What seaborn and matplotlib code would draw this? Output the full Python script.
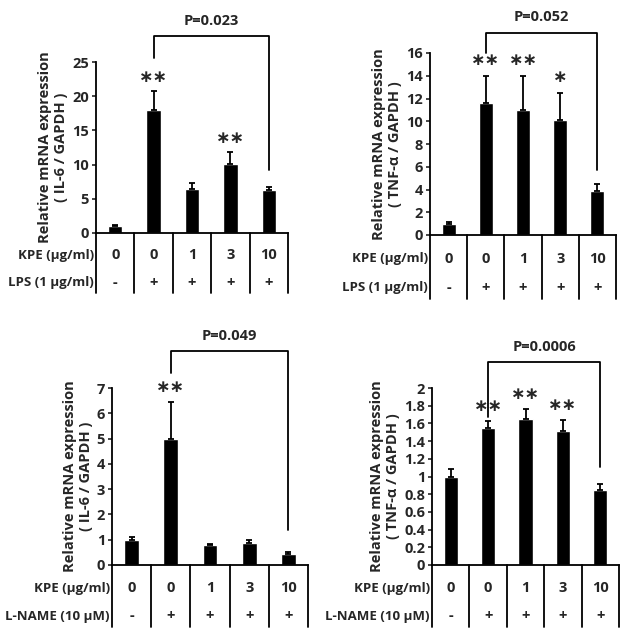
import pandas as pd
import matplotlib
matplotlib.use('Agg')
import matplotlib.pyplot as plt
import seaborn as sns

# data
groups = ['g1', 'g2', 'g3', 'g4', 'g5']
kpe_labels = ['0', '0', '1', '3', '10']
sign_labels = ['-', '+', '+', '+', '+']

il6_lps = [1.0, 18.0, 6.5, 10.1, 6.3]
il6_lps_err = [0.1, 2.7, 0.8, 1.7, 0.4]
il6_lps_stars = ['', '**', '', '**', '']

tnf_lps = [1.0, 11.6, 11.0, 10.1, 3.9]
tnf_lps_err = [0.1, 2.4, 3.0, 2.4, 0.6]
tnf_lps_stars = ['', '**', '**', '*', '']

il6_lname = [1.0, 5.0, 0.78, 0.87, 0.45]
il6_lname_err = [0.1, 1.45, 0.07, 0.1, 0.07]
il6_lname_stars = ['', '**', '', '', '']

tnf_lname = [1.0, 1.55, 1.65, 1.51, 0.85]
tnf_lname_err = [0.09, 0.08, 0.11, 0.13, 0.07]
tnf_lname_stars = ['', '**', '**', '**', '']

p_values = ['P=0.023', 'P=0.052', 'P=0.049', 'P=0.0006']

sns.set_style('white')
plt.rcParams['font.family'] = ['Open Sans', 'DejaVu Sans']
plt.rcParams['font.weight'] = 'bold'

W, H = 628, 639
fig = plt.figure(figsize=(W / 100, H / 100), dpi=100)


def add_ax(left, right, top, bottom):
    return fig.add_axes([left / W, 1 - bottom / H, (right - left) / W, (bottom - top) / H])


def draw_panel(ax, vals, errs, stars, ymax, ystep, gene, treat, ptext, bracket):
    df = pd.DataFrame({'group': groups, 'value': vals})
    sns.barplot(data=df, x='group', y='value', color='black', width=0.38,
                saturation=1, errorbar=None, ax=ax)
    x = list(range(len(groups)))
    ax.errorbar(x, vals, yerr=[[0] * len(errs), errs], fmt='none', ecolor='black',
                elinewidth=1.3, capsize=2.5, capthick=1.3)
    ax.set_xlim(-0.5, len(groups) - 0.5)
    ax.set_ylim(0, ymax)
    ticks = [round(i * ystep, 2) for i in range(int(round(ymax / ystep)) + 1)]
    ax.set_yticks(ticks)
    ax.set_yticklabels([f'{t:g}' for t in ticks], fontsize=10.5, fontweight='bold')
    ax.tick_params(axis='y', direction='out', length=3, width=1.2, left=True, pad=2)
    ax.set_xticks([])
    ax.set_xlabel('')
    ax.set_ylabel(f'Relative mRNA expression\n( {gene} / GAPDH )', fontsize=10.5,
                  fontweight='bold', labelpad=3, linespacing=1.15)
    for s in ['top', 'right']:
        ax.spines[s].set_visible(False)
    for s in ['left', 'bottom']:
        ax.spines[s].set_linewidth(1.3)
        ax.spines[s].set_color('black')

    for i, s in enumerate(stars):
        if s:
            ax.text(i, vals[i] + errs[i] + 0.085 * ymax, s.replace('*', '\u2217'),
                    ha='center', va='center', fontsize=12.5, fontweight='bold',
                    family='DejaVu Sans')

    # significance bracket
    yl, yt, yr = bracket
    ax.plot([1, 1, 4, 4], [yl, yt, yt, yr], color='black', lw=1.3, clip_on=False)
    ax.text(2.5, yt + 0.045 * ymax, ptext, ha='center', va='bottom', fontsize=10.5,
            fontweight='bold', clip_on=False)

    # table under the axis
    tr = ax.get_xaxis_transform()
    for b in [i - 0.5 for i in range(len(groups) + 1)]:
        ax.plot([b, b], [0, -0.35], color='black', lw=1.3, transform=tr, clip_on=False)
    for i in x:
        ax.text(i, -0.13, kpe_labels[i], ha='center', va='center', transform=tr,
                fontsize=10.5, fontweight='bold')
        ax.text(i, -0.29, sign_labels[i], ha='center', va='center', transform=tr,
                fontsize=10.5, fontweight='bold')
    ax.text(-0.56, -0.13, 'KPE (µg/ml)', ha='right', va='center', transform=tr,
            fontsize=9.5, fontweight='bold')
    ax.text(-0.56, -0.29, treat, ha='right', va='center', transform=tr,
            fontsize=9.5, fontweight='bold')


ax1 = add_ax(96, 288, 62, 233)
draw_panel(ax1, il6_lps, il6_lps_err, il6_lps_stars, 25, 5, 'IL-6', 'LPS (1 µg/ml)',
           p_values[0], (25.6, 28.8, 9.2))

ax2 = add_ax(430, 616, 53, 235)
draw_panel(ax2, tnf_lps, tnf_lps_err, tnf_lps_stars, 16, 2, 'TNF-α', 'LPS (1 µg/ml)',
           p_values[1], (16.0, 17.8, 5.7))

ax3 = add_ax(112, 308, 388, 565)
draw_panel(ax3, il6_lname, il6_lname_err, il6_lname_stars, 7, 1, 'IL-6', 'L-NAME (10 µM)',
           p_values[2], (7.6, 8.46, 1.38))

ax4 = add_ax(432, 619, 388, 565)
draw_panel(ax4, tnf_lname, tnf_lname_err, tnf_lname_stars, 2, 0.2, 'TNF-α', 'L-NAME (10 µM)',
           p_values[3], (1.67, 2.29, 1.11))

fig.savefig('out.png', dpi=100)
